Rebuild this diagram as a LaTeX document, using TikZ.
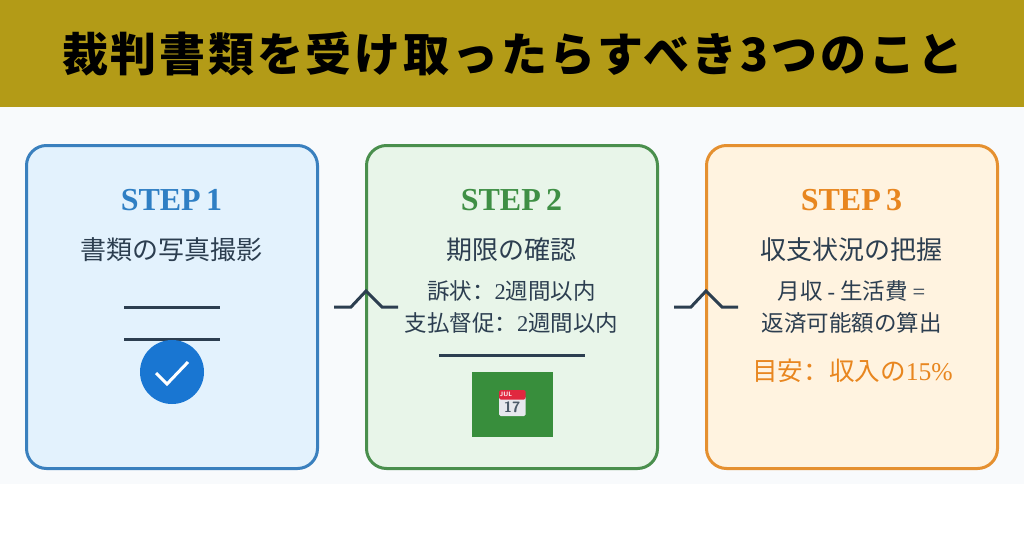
\documentclass[tikz,border=0pt]{standalone}
\usepackage{fontspec}
\usepackage{xcolor}
\setmainfont{Liberation Serif}
\newfontfamily\cjkfont{Noto Sans CJK JP}
\newfontfamily\scfont{Noto Sans CJK SC}
\newfontfamily\titlefont[LetterSpace=6]{Noto Sans CJK JP}
\definecolor{band}{HTML}{B39B17}
\definecolor{page}{HTML}{F8FAFC}
\definecolor{ink}{HTML}{2C3E50}
\definecolor{blueline}{HTML}{3A80BE}
\definecolor{bluefill}{HTML}{E3F2FD}
\definecolor{bluetxt}{HTML}{2F7FC4}
\definecolor{bluedot}{HTML}{1976D2}
\definecolor{greenline}{HTML}{4A8F4D}
\definecolor{greenfill}{HTML}{E8F5E9}
\definecolor{greentxt}{HTML}{3F8F45}
\definecolor{greenbox}{HTML}{388E3C}
\definecolor{orangeline}{HTML}{E59030}
\definecolor{orangefill}{HTML}{FFF3E0}
\definecolor{orangetxt}{HTML}{E8861F}
\definecolor{calred}{HTML}{E0283F}
\definecolor{calgrey}{HTML}{E6E8EE}
\tikzset{
  card/.style={draw=#1line,fill=#1fill,line width=3pt,rounded corners=20pt,minimum width=291pt,minimum height=323pt,inner sep=0pt},
  steplabel/.style={anchor=base,inner sep=0pt,font=\fontsize{32}{32}\selectfont\bfseries},
  headlabel/.style={anchor=base,inner sep=0pt,text=ink,font=\cjkfont\fontsize{26}{26}\selectfont},
  bodylabel/.style={anchor=base,inner sep=0pt,text=ink,font=\cjkfont\fontsize{22.5}{22}\selectfont},
  ruleline/.style={draw=ink,line width=3pt},
  peakline/.style={draw=ink,line width=3pt,miter limit=10},
}
\newcommand{\lat}[1]{{\rmfamily #1}}
\newcommand{\fullcolon}{{\scfont ：}}
\newcommand{\stepgap}{\hspace{0.17em}}
\begin{document}
\begin{tikzpicture}[x=1pt,y=-1pt]
  \useasboundingbox (0,0) rectangle (1024,538);
  \fill[white] (0,0) rectangle (1024,538);
  \fill[page] (0,107) rectangle (1024,484);
  \fill[band] (0,0) rectangle (1024,107);
  \node[anchor=base,inner sep=0pt,font=\titlefont\bfseries\fontsize{46}{46}\selectfont] (title) at (513,71) {裁判書類を受け取ったらすべき3つのこと};
  % cards
  \node[card=blue] (card1) at (172,307) {};
  \node[card=green] (card2) at (512,307) {};
  \node[card=orange] (card3) at (852,307) {};
  % step 1
  \node[steplabel,text=bluetxt] (step1) at (171.5,210.5) {STEP\stepgap 1};
  \node[headlabel] (head1) at (171.5,259.5) {書類の写真撮影};
  \coordinate (r1a) at (124,307);
  \coordinate (r1b) at (220,307);
  \coordinate (r2a) at (124,339);
  \coordinate (r2b) at (220,339);
  \draw[ruleline] (r1a)--(r1b);
  \draw[ruleline] (r2a)--(r2b);
  \node[circle,fill=bluedot,minimum size=64pt,inner sep=0pt] (dot) at (172,372) {};
  \coordinate (c1) at (156,373);
  \coordinate (c2) at (167,384);
  \coordinate (c3) at (188,362);
  \draw[white,line width=3pt] (c1)--(c2)--(c3);
  % step 2
  \node[steplabel,text=greentxt] (step2) at (511.5,210.5) {STEP\stepgap 2};
  \node[headlabel] (head2) at (511.5,259.5) {期限の確認};
  \node[bodylabel] (due1) at (511.5,299) {訴状\fullcolon\lat{2}週間以内};
  \node[bodylabel] (due2) at (511.5,331) {支払督促\fullcolon\lat{2}週間以内};
  \coordinate (r3a) at (439,355);
  \coordinate (r3b) at (585,355);
  \draw[ruleline] (r3a)--(r3b);
  \node[fill=greenbox,minimum width=81pt,minimum height=65pt,inner sep=0pt] (calbox) at (512,404.5) {};
  \fill[calgrey,rounded corners=1.5pt] (499,396) rectangle (525.5,416);
  \fill[calred,rounded corners=1.5pt] (499,390) rectangle (525.5,399.5);
  \node[inner sep=0pt,text=white,font=\sffamily\bfseries\fontsize{6.5}{6}\selectfont] (calmonth) at (506,394.8) {JUL};
  \node[inner sep=0pt,text=ink!85,font=\sffamily\bfseries\fontsize{15}{15}\selectfont] (calday) at (512,407.5) {17};
  % step 3
  \node[steplabel,text=orangetxt] (step3) at (851.5,210.5) {STEP\stepgap 3};
  \node[headlabel] (head3) at (851.5,259.5) {収支状況の把握};
  \node[bodylabel] (calc1) at (851.5,299) {月収 \lat{-} 生活費 \lat{=}};
  \node[bodylabel] (calc2) at (851.5,331) {返済可能額の算出};
  \node[anchor=base,inner sep=0pt,text=orangetxt,font=\cjkfont\fontsize{25.6}{26}\selectfont] (goal) at (852.5,380) {目安\fullcolon 収入の\lat{15\%}};
  % peaks between cards
  \coordinate (a1) at (334,307);
  \coordinate (a2) at (351,307);
  \coordinate (a3) at (366,291);
  \coordinate (a4) at (382,307);
  \coordinate (a5) at (398,307);
  \draw[peakline] (a1)--(a2)--(a3)--(a4)--(a5);
  \coordinate (b1) at (674,307);
  \coordinate (b2) at (691,307);
  \coordinate (b3) at (706,291);
  \coordinate (b4) at (722,307);
  \coordinate (b5) at (738,307);
  \draw[peakline] (b1)--(b2)--(b3)--(b4)--(b5);
\end{tikzpicture}
\end{document}
